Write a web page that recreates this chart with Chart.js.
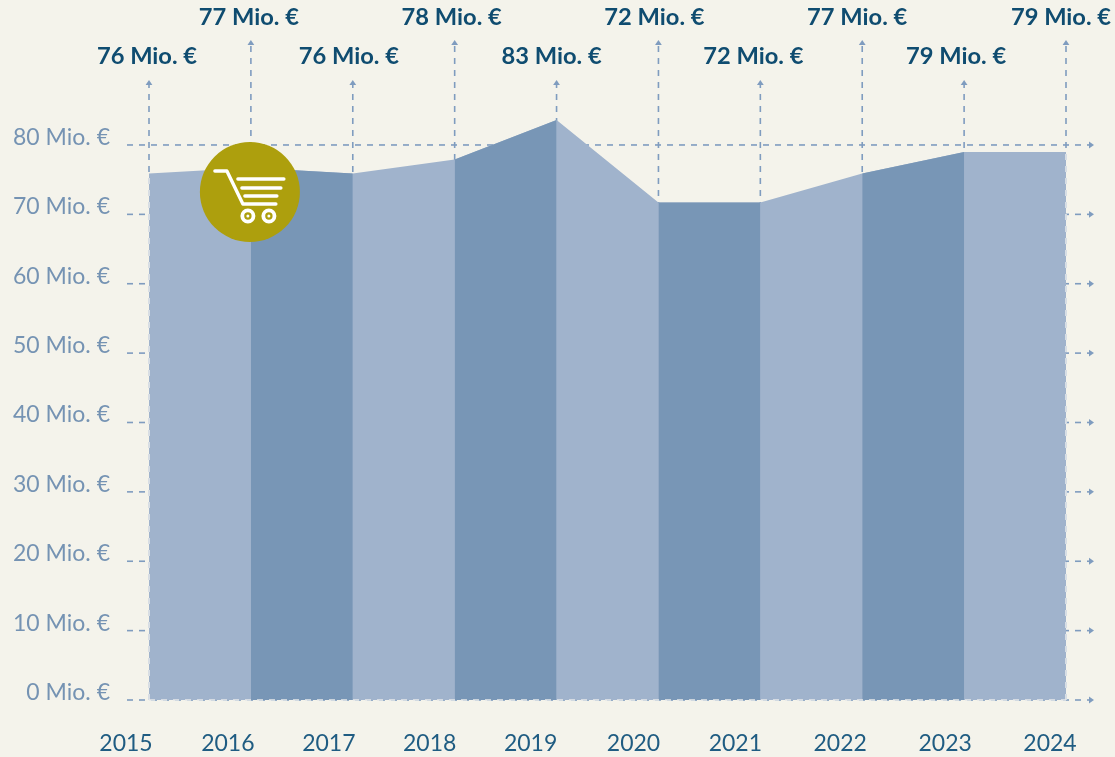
<!DOCTYPE html>
<html><head><meta charset="utf-8">
<style>html,body{margin:0;padding:0;background:#f4f3eb}canvas{display:block}</style>
<script src="https://cdn.jsdelivr.net/npm/chart.js@4/dist/chart.umd.min.js"></script>
</head><body><canvas id="c" width="1115" height="757"></canvas>
<script>
const years = [2015,2016,2017,2018,2019,2020,2021,2022,2023,2024];
const values = [75.9,76.7,75.9,77.9,83.6,71.7,71.7,75.9,79.0,79.0];
const valueLabels = ["76 Mio. €","77 Mio. €","76 Mio. €","78 Mio. €","83 Mio. €","72 Mio. €","72 Mio. €","77 Mio. €","79 Mio. €","79 Mio. €"];
const yTicks = [0,10,20,30,40,50,60,70,80];
const yearLabelShift = [-0.226,-0.226,-0.235,-0.245,-0.255,-0.245,-0.245,-0.216,-0.186,-0.157];
const valueLabelShift = [-2,-2,-4,-3,-5,-4,-7,-5,-8,-5];
const BG='#f4f3eb', LIGHT='#a0b3cc', DARK='#7896b6', DASH='#7f9cbf', TXT_Y='#7593b3', TXT_X='#1f5c82', TXT_V='#0f4c70', GOLD='#ad9f0d';
const FONT='Lato';

const base = {
  data:years.map((yr,i)=>({x:yr,y:values[i]})),
  fill:'origin',borderWidth:0,pointRadius:0,tension:0,backgroundColor:LIGHT
};
const darkBands = values.slice(0,-1).map((v,i)=>({
  data:[{x:years[i],y:v},{x:years[i+1],y:values[i+1]}],
  fill:'origin',borderWidth:0,pointRadius:0,tension:0,backgroundColor:DARK
})).filter((d,i)=>i%2===1);

function dashLine(ctx,x1,y1,x2,y2,color){
  ctx.save();ctx.strokeStyle=color;ctx.lineWidth=1.6;ctx.setLineDash([6,6]);
  ctx.beginPath();ctx.moveTo(x1,y1);ctx.lineTo(x2,y2);ctx.stroke();ctx.restore();
}
function arrow(ctx,x,y,dx,dy){
  ctx.save();ctx.fillStyle=DASH;ctx.beginPath();
  ctx.moveTo(x+dx*4,y+dy*4);
  ctx.lineTo(x-dx*1+dy*3.4,y-dy*1+dx*3.4);
  ctx.lineTo(x-dx*1-dy*3.4,y-dy*1-dx*3.4);
  ctx.closePath();ctx.fill();ctx.restore();
}
const gridPlugin={id:'grid',
  beforeDatasetsDraw(chart){
    const {ctx,scales:{x,y}}=chart;
    const bottom=y.getPixelForValue(0), left=x.getPixelForValue(2015), right=x.getPixelForValue(2024);
    yTicks.forEach(t=>{const p=y.getPixelForValue(t);
      dashLine(ctx,left-22,p,right+26,p,DASH);arrow(ctx,right+24,p,1,0);});
    years.forEach((yr,i)=>{const p=x.getPixelForValue(yr);const top=i%2?45:85;
      dashLine(ctx,p,bottom,p,top,DASH);arrow(ctx,p,top-1,0,-1);});
  },
  afterDatasetsDraw(chart){
    const {ctx,scales:{x,y}}=chart;
    const bottom=y.getPixelForValue(0), left=x.getPixelForValue(2015), right=x.getPixelForValue(2024);
    dashLine(ctx,left,bottom,right,bottom,'#e6e9ea');
    dashLine(ctx,left,bottom,left,y.getPixelForValue(values[0]),'#e6e9ea');
    dashLine(ctx,right,bottom,right,y.getPixelForValue(values[9]),'#e6e9ea');
    ctx.save();
    ctx.font='bold 23.7px '+FONT;ctx.fillStyle=TXT_V;ctx.textAlign='center';ctx.textBaseline='middle';
    years.forEach((yr,i)=>{ctx.fillText(valueLabels[i],x.getPixelForValue(yr)+valueLabelShift[i],i%2?17.5:56.5);});
    ctx.restore();
    // cart badge
    const cx=x.getPixelForValue(2016)-1, cy=192;
    ctx.save();ctx.fillStyle=GOLD;ctx.beginPath();ctx.arc(cx,cy,50,0,Math.PI*2);ctx.fill();
    ctx.translate(cx,cy);ctx.strokeStyle='#fff';ctx.lineWidth=3.4;ctx.lineJoin='round';ctx.lineCap='round';
    ctx.beginPath();ctx.moveTo(-35,-21);ctx.lineTo(-23,-21);ctx.lineTo(-7,12);ctx.lineTo(26,12);ctx.stroke();
    [[-12,34,-13],[-8,31,-4],[-5,27,4]].forEach(([a,b,yy])=>{ctx.beginPath();ctx.moveTo(a,yy);ctx.lineTo(b,yy);ctx.stroke();});
    [-2,19].forEach(px=>{ctx.lineWidth=3.8;ctx.beginPath();ctx.arc(px,24,5.6,0,Math.PI*2);ctx.stroke();
      ctx.fillStyle='#fff';ctx.beginPath();ctx.arc(px,24,1.5,0,Math.PI*2);ctx.fill();});
    ctx.restore();
  }
};

new Chart(document.getElementById('c'),{
  type:'line',
  data:{datasets:[...darkBands,base]},
  plugins:[gridPlugin],
  options:{
    responsive:false,animation:false,
    layout:{padding:{top:75.6,right:49,left:0,bottom:0}},
    plugins:{legend:{display:false},tooltip:{enabled:false}},
    scales:{
      x:{type:'linear',min:2015,max:2024,
        grid:{display:false,drawTicks:false},border:{display:false},
        afterBuildTicks(s){s.ticks=years.map((yr,i)=>({value:yr+yearLabelShift[i]}));},
        afterFit(s){s.height=57;},
        ticks:{autoSkip:false,maxRotation:0,padding:30,color:TXT_X,font:{family:FONT,size:23},
          callback:(v,i)=>String(years[i])}},
      y:{type:'linear',min:0,max:90,
        grid:{display:false,drawTicks:false},border:{display:false},
        afterFit(s){s.width=149;},
        ticks:{stepSize:10,padding:39,labelOffset:-7.5,color:TXT_Y,font:{family:FONT,size:23},
          callback:v=>yTicks.includes(v)?v+' Mio. €':null}}
    }
  }
});
</script></body></html>
